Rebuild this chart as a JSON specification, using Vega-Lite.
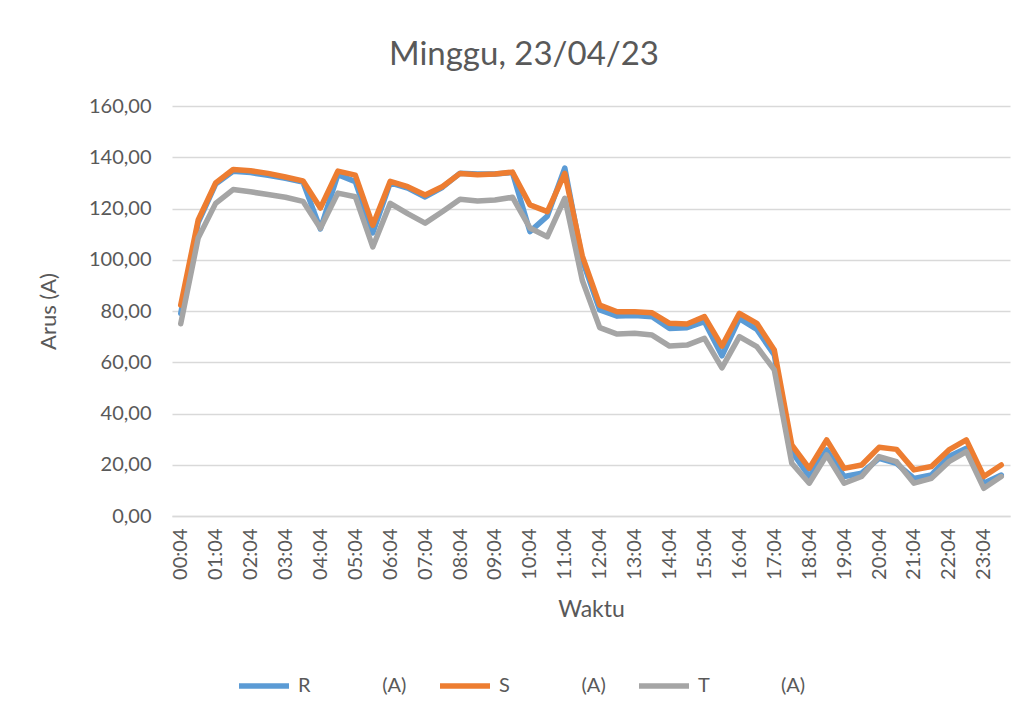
{
  "$schema": "https://vega.github.io/schema/vega-lite/v6.json",
  "width": 838,
  "height": 410,
  "autosize": {"type": "none"},
  "padding": {"left": 172, "top": 106, "right": 17, "bottom": 202},
  "background": "white",
  "config": {
    "view": {"stroke": null},
    "font": "Lato",
    "axis": {"labelFont": "Lato", "titleFont": "Lato", "labelColor": "#595959", "titleColor": "#595959", "titleFontWeight": "normal"}
  },
  "title": {"text": "Minggu, 23/04/23", "fontSize": 33, "font": "Lato", "fontWeight": "normal", "color": "#595959", "dx": -67, "offset": 24},
  "data": {"values": [
    {"t":"00:04","f":"R","v":79},{"t":"00:34","f":"R","v":114.5},{"t":"01:04","f":"R","v":129.5},{"t":"01:34","f":"R","v":134.5},
    {"t":"02:04","f":"R","v":134},{"t":"02:34","f":"R","v":133},{"t":"03:04","f":"R","v":131.8},{"t":"03:34","f":"R","v":130.3},
    {"t":"04:04","f":"R","v":112},{"t":"04:34","f":"R","v":133.2},{"t":"05:04","f":"R","v":130.5},{"t":"05:34","f":"R","v":110.5},
    {"t":"06:04","f":"R","v":130},{"t":"06:34","f":"R","v":128},{"t":"07:04","f":"R","v":124.5},{"t":"07:34","f":"R","v":128.3},
    {"t":"08:04","f":"R","v":133.8},{"t":"08:34","f":"R","v":133.5},{"t":"09:04","f":"R","v":133.5},{"t":"09:34","f":"R","v":134},
    {"t":"10:04","f":"R","v":111},{"t":"10:34","f":"R","v":117},{"t":"11:04","f":"R","v":135.8},{"t":"11:34","f":"R","v":100},
    {"t":"12:04","f":"R","v":80.4},{"t":"12:34","f":"R","v":78},{"t":"13:04","f":"R","v":78.2},{"t":"13:34","f":"R","v":77.8},
    {"t":"14:04","f":"R","v":73.2},{"t":"14:34","f":"R","v":73.5},{"t":"15:04","f":"R","v":75.8},{"t":"15:34","f":"R","v":62.5},
    {"t":"16:04","f":"R","v":77},{"t":"16:34","f":"R","v":72.8},{"t":"17:04","f":"R","v":62.8},{"t":"17:34","f":"R","v":25.1},
    {"t":"18:04","f":"R","v":15.4},{"t":"18:34","f":"R","v":25.8},{"t":"19:04","f":"R","v":15.4},{"t":"19:34","f":"R","v":16.7},
    {"t":"20:04","f":"R","v":22.5},{"t":"20:34","f":"R","v":20.5},{"t":"21:04","f":"R","v":14.7},{"t":"21:34","f":"R","v":16},
    {"t":"22:04","f":"R","v":23.2},{"t":"22:34","f":"R","v":26.4},{"t":"23:04","f":"R","v":12.8},{"t":"23:34","f":"R","v":16},
    {"t":"00:04","f":"S","v":82.3},{"t":"00:34","f":"S","v":115.5},{"t":"01:04","f":"S","v":130},{"t":"01:34","f":"S","v":135.2},
    {"t":"02:04","f":"S","v":134.7},{"t":"02:34","f":"S","v":133.7},{"t":"03:04","f":"S","v":132.3},{"t":"03:34","f":"S","v":130.8},
    {"t":"04:04","f":"S","v":120.2},{"t":"04:34","f":"S","v":134.6},{"t":"05:04","f":"S","v":133},{"t":"05:34","f":"S","v":113.5},
    {"t":"06:04","f":"S","v":130.6},{"t":"06:34","f":"S","v":128.5},{"t":"07:04","f":"S","v":125.3},{"t":"07:34","f":"S","v":128.6},
    {"t":"08:04","f":"S","v":133.7},{"t":"08:34","f":"S","v":133.2},{"t":"09:04","f":"S","v":133.5},{"t":"09:34","f":"S","v":134.2},
    {"t":"10:04","f":"S","v":121.4},{"t":"10:34","f":"S","v":118.8},{"t":"11:04","f":"S","v":133.7},{"t":"11:34","f":"S","v":101.5},
    {"t":"12:04","f":"S","v":82.3},{"t":"12:34","f":"S","v":79.7},{"t":"13:04","f":"S","v":79.7},{"t":"13:34","f":"S","v":79.3},
    {"t":"14:04","f":"S","v":75.2},{"t":"14:34","f":"S","v":74.9},{"t":"15:04","f":"S","v":77.8},{"t":"15:34","f":"S","v":66.3},
    {"t":"16:04","f":"S","v":79.1},{"t":"16:34","f":"S","v":75.2},{"t":"17:04","f":"S","v":64.8},{"t":"17:34","f":"S","v":27.7},
    {"t":"18:04","f":"S","v":18.6},{"t":"18:34","f":"S","v":29.7},{"t":"19:04","f":"S","v":18.6},{"t":"19:34","f":"S","v":19.9},
    {"t":"20:04","f":"S","v":26.8},{"t":"20:34","f":"S","v":26},{"t":"21:04","f":"S","v":18},{"t":"21:34","f":"S","v":19.3},
    {"t":"22:04","f":"S","v":25.8},{"t":"22:34","f":"S","v":29.7},{"t":"23:04","f":"S","v":15.4},{"t":"23:34","f":"S","v":19.9},
    {"t":"00:04","f":"T","v":75},{"t":"00:34","f":"T","v":108.5},{"t":"01:04","f":"T","v":122},{"t":"01:34","f":"T","v":127.4},
    {"t":"02:04","f":"T","v":126.5},{"t":"02:34","f":"T","v":125.5},{"t":"03:04","f":"T","v":124.4},{"t":"03:34","f":"T","v":122.8},
    {"t":"04:04","f":"T","v":112.3},{"t":"04:34","f":"T","v":126},{"t":"05:04","f":"T","v":124.6},{"t":"05:34","f":"T","v":105},
    {"t":"06:04","f":"T","v":122},{"t":"06:34","f":"T","v":118},{"t":"07:04","f":"T","v":114.3},{"t":"07:34","f":"T","v":118.8},
    {"t":"08:04","f":"T","v":123.6},{"t":"08:34","f":"T","v":122.9},{"t":"09:04","f":"T","v":123.3},{"t":"09:34","f":"T","v":124.4},
    {"t":"10:04","f":"T","v":112.4},{"t":"10:34","f":"T","v":109},{"t":"11:04","f":"T","v":124},{"t":"11:34","f":"T","v":92},
    {"t":"12:04","f":"T","v":73.5},{"t":"12:34","f":"T","v":71},{"t":"13:04","f":"T","v":71.3},{"t":"13:34","f":"T","v":70.6},
    {"t":"14:04","f":"T","v":66.3},{"t":"14:34","f":"T","v":66.7},{"t":"15:04","f":"T","v":69.3},{"t":"15:34","f":"T","v":57.8},
    {"t":"16:04","f":"T","v":70},{"t":"16:34","f":"T","v":66.1},{"t":"17:04","f":"T","v":57},{"t":"17:34","f":"T","v":20.6},
    {"t":"18:04","f":"T","v":12.8},{"t":"18:34","f":"T","v":23.8},{"t":"19:04","f":"T","v":12.8},{"t":"19:34","f":"T","v":15.4},
    {"t":"20:04","f":"T","v":23.2},{"t":"20:34","f":"T","v":21.2},{"t":"21:04","f":"T","v":12.8},{"t":"21:34","f":"T","v":14.7},
    {"t":"22:04","f":"T","v":21.2},{"t":"22:34","f":"T","v":25.1},{"t":"23:04","f":"T","v":10.8},{"t":"23:34","f":"T","v":15.4}
  ]},
  "mark": {"type": "line", "strokeWidth": 5.5, "strokeCap": "round", "strokeJoin": "round"},
  "encoding": {
    "x": {
      "field": "t", "type": "ordinal", "sort": null,
      "scale": {"type": "point", "padding": 0.5},
      "axis": {
        "values": ["00:04","01:04","02:04","03:04","04:04","05:04","06:04","07:04","08:04","09:04","10:04","11:04","12:04","13:04","14:04","15:04","16:04","17:04","18:04","19:04","20:04","21:04","22:04","23:04"],
        "labelAngle": -90, "labelFontSize": 20, "labelPadding": 12, "ticks": false,
        "domain": true, "domainColor": "#D9D9D9", "domainWidth": 1.3, "grid": false,
        "title": "Waktu", "titleFontSize": 23, "titlePadding": 19
      }
    },
    "y": {
      "field": "v", "type": "quantitative",
      "scale": {"domain": [0, 160]},
      "axis": {
        "values": [0, 20, 40, 60, 80, 100, 120, 140, 160],
        "labelExpr": "replace(format(datum.value, '.2f'), '.', ',')",
        "labelFontSize": 20, "labelPadding": 21, "ticks": false, "domain": false,
        "grid": true, "gridColor": "#D9D9D9", "gridWidth": 1.3,
        "title": "Arus (A)", "titleFontSize": 22, "titlePadding": 28
      }
    },
    "color": {
      "field": "f", "type": "nominal",
      "scale": {"domain": ["R", "S", "T"], "range": ["#5B9BD5", "#ED7D31", "#A5A5A5"]},
      "legend": {
        "orient": "none", "legendX": 64, "legendY": 552, "direction": "horizontal", "title": null,
        "symbolType": "stroke", "symbolSize": 2500, "symbolStrokeWidth": 5.5,
        "labelFontSize": 20, "labelColor": "#595959", "labelFont": "Lato", "labelOffset": 6, "columnPadding": 22,
        "labelExpr": "datum.label + '\u00a0\u00a0\u00a0\u00a0\u00a0\u00a0\u00a0\u00a0\u00a0\u00a0\u00a0\u00a0\u00a0\u00a0(A)'"
      }
    }
  }
}
